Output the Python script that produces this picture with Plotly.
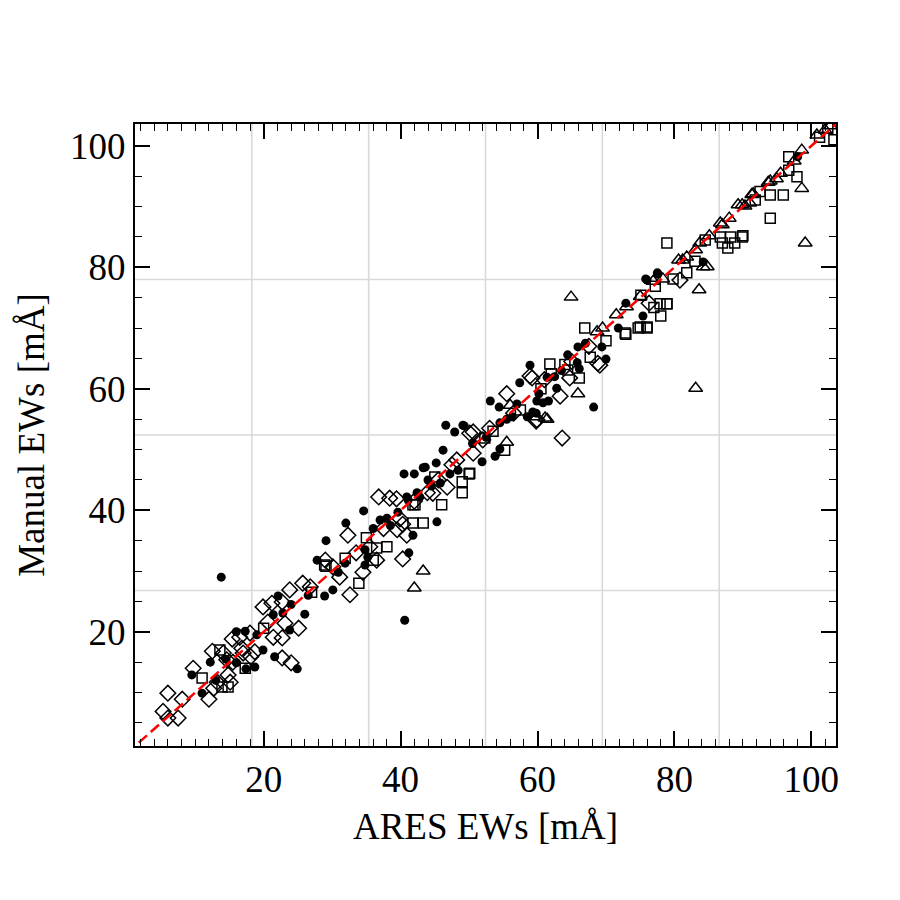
import plotly.graph_objects as go

# ---- data (ARES EW, Manual EW) in mÅ ----
dots_x = [13.8, 40.6, 21.6, 24.9, 9.5, 11.0, 12.2, 16.0, 17.3, 17.4, 19.9, 22.1, 26.0, 29.1, 27.8, 32.0,
          30.1, 34.6, 40.5, 42.0, 43.3, 45.2, 46.2, 46.6, 47.9, 49.1, 51.9, 41.8, 41.2, 45.3, 28.9, 57.4,
          53.1, 54.4, 49.3, 43.6, 53.8, 54.5, 58.5, 59.8, 60.8, 61.4, 76.0, 77.5, 72.9, 75.4, 71.8, 70.0,
          68.2, 65.9, 62.8, 58.9, 59.3, 66.1, 84.2, 98.0, 22.8, 23.8, 30.9, 31.9, 34.8, 35.2, 34.8, 37.0,
          38.0, 39.6, 41.1, 42.4, 56.3, 54.5, 59.9, 48.4, 47.2, 42.8, 40.9, 44.0, 69.4, 65.8, 64.4, 60.2,
          61.6, 77.6, 75.8, 16.0, 18.7, 21.4, 36.0, 38.5, 44.5, 45.8, 50.5, 52.5, 55.5, 57.0, 62.5, 63.5,
          67.0, 26.5, 24.0, 19.0, 14.5, 13.0]
dots_y = [29.0, 21.9, 15.9, 13.9, 12.9, 9.9, 15.0, 20.0, 20.1, 13.9, 17.0, 25.9, 22.9, 35.0, 31.8, 37.9,
          26.9, 39.9, 46.0, 46.0, 47.0, 47.8, 49.9, 54.0, 52.9, 54.0, 48.0, 35.9, 33.0, 38.1, 25.9, 61.0,
          58.0, 57.0, 53.9, 47.1, 48.9, 50.1, 55.4, 56.0, 57.7, 61.9, 77.9, 79.1, 74.1, 72.0, 70.0, 64.9,
          57.0, 66.9, 60.1, 63.9, 56.2, 63.3, 80.9, 98.2, 23.1, 20.3, 29.8, 31.3, 31.0, 32.3, 33.5, 38.4,
          38.7, 39.7, 41.7, 42.9, 55.4, 54.4, 58.0, 46.6, 46.0, 42.2, 42.2, 45.0, 66.9, 64.3, 65.6, 59.2,
          58.0, 78.9, 78.1, 14.9, 14.2, 22.8, 37.0, 37.5, 44.0, 44.5, 51.0, 52.0, 55.0, 57.5, 62.0, 63.0,
          67.5, 26.0, 24.5, 19.5, 15.5, 12.0]

squares_x = [96.7, 96.7, 97.9, 94.0, 95.9, 94.0, 91.8, 90.0, 102.4, 103.3, 101.2, 78.9, 86.7, 88.2, 89.9,
             87.0, 88.8, 87.8, 83.0, 81.8, 79.8, 77.2, 77.9, 78.9, 78.0, 76.0, 75.0, 66.9, 74.7, 72.9, 70.0,
             67.7, 61.8, 64.4, 66.1, 75.1, 50.0, 49.0, 49.0, 42.1, 46.0, 41.8, 43.3, 52.3, 55.2, 33.9, 38.0,
             41.8, 28.9, 11.0, 13.6, 14.8, 17.3, 20.0, 13.9, 36.5, 36.0, 29.1, 31.9, 50.1, 72.8, 76.0, 78.9,
             77.0, 45.0, 53.5, 57.5, 60.5, 62.0, 64.0, 84.5, 92.5, 35.0, 27.0]
squares_y = [98.2, 96.0, 94.9, 91.9, 91.9, 88.1, 91.1, 85.2, 102.9, 101.0, 101.4, 84.0, 85.0, 85.0, 85.0,
             84.0, 84.0, 83.2, 81.0, 79.1, 78.1, 76.9, 74.0, 74.0, 72.0, 70.2, 70.2, 70.0, 70.0, 69.0, 67.9,
             65.2, 64.1, 63.1, 61.8, 75.4, 46.0, 44.7, 42.9, 40.9, 40.9, 37.9, 37.9, 51.9, 49.9, 28.0, 34.0,
             40.9, 31.0, 12.4, 17.0, 10.9, 14.0, 20.6, 10.9, 33.8, 31.8, 30.8, 32.1, 46.1, 69.2, 70.0, 74.0,
             73.4, 45.5, 53.0, 56.5, 60.0, 62.5, 64.0, 84.5, 92.5, 35.5, 26.5]

diamonds_x = [6.0, 5.3, 6.0, 7.5, 8.1, 9.7, 12.0, 12.7, 12.5, 15.4, 15.1, 13.2, 14.8, 15.5, 16.8, 18.0,
              19.9, 20.6, 21.2, 22.7, 22.7, 32.3, 32.6, 40.3, 40.9, 36.8, 38.4, 39.4, 24.0, 25.1, 34.5,
              14.1, 14.6, 16.5, 17.0, 18.1, 18.7, 21.4, 23.1, 23.8, 22.7, 25.7, 26.8, 29.0, 30.1, 31.1,
              35.5, 36.5, 39.5, 39.9, 43.9, 46.8, 48.2, 50.1, 50.6, 52.0, 55.5, 50.6, 44.7, 59.9, 40.3,
              76.3, 58.9, 63.3, 69.1, 64.7, 59.8, 63.6, 80.8, 59.2, 68.8, 33.5, 37.5, 42.0, 45.5, 47.5,
              53.0, 56.5, 61.0, 65.0, 67.5]
diamonds_y = [9.9, 6.9, 5.8, 5.8, 8.9, 14.0, 8.9, 10.7, 16.8, 18.8, 11.7, 11.7, 12.9, 15.0, 17.3, 19.8,
              24.1, 21.6, 24.7, 15.7, 19.0, 35.9, 26.1, 32.0, 35.9, 42.2, 42.0, 41.9, 14.9, 20.6, 29.8,
              16.5, 15.4, 19.1, 16.5, 15.9, 16.7, 19.1, 21.4, 26.9, 24.9, 28.0, 27.4, 31.8, 30.7, 29.0,
              34.0, 31.8, 36.8, 38.6, 42.9, 43.8, 48.3, 52.7, 49.4, 51.6, 59.2, 52.9, 42.8, 54.9, 37.7,
              74.1, 62.1, 58.8, 63.9, 61.8, 54.7, 51.9, 77.9, 61.8, 64.2, 33.0, 37.0, 41.5, 45.0, 47.5,
              53.5, 56.0, 61.5, 64.5, 67.0]

triangles_x = [99.1, 98.6, 98.6, 94.0, 94.9, 91.5, 100.8, 102.0, 102.8, 89.9, 91.0, 83.1, 83.6, 93.7, 91.3,
               89.3, 90.3, 88.0, 86.7, 85.1, 83.7, 83.1, 81.8, 81.2, 80.6, 84.2, 84.8, 78.3, 64.9, 65.9,
               61.4, 71.5, 68.7, 76.9, 43.3, 42.0, 55.5, 59.4, 56.0, 61.1, 87.0, 95.5, 97.5, 73.0, 75.0, 69.5]
triangles_y = [84.0, 93.0, 99.3, 94.2, 94.6, 92.1, 101.8, 102.6, 103.3, 90.3, 90.6, 60.1, 76.3, 94.0, 92.0,
               90.3, 90.1, 88.1, 87.3, 85.2, 84.0, 82.9, 81.7, 81.2, 81.2, 80.1, 80.1, 78.1, 75.1, 59.2,
               55.0, 72.2, 69.4, 77.7, 30.0, 27.2, 51.2, 55.4, 57.3, 55.2, 87.0, 95.5, 97.5, 73.5, 75.2, 70.0]

one_to_one = [0, 110]
x_range = [1.2, 103.6]
y_range = [1.2, 103.6]
vgrid_frac = [1/6, 2/6, 3/6, 4/6, 5/6]
hgrid_frac = [1/4, 2/4, 3/4]

FONT = "Liberation Serif"
fig = go.Figure()

def add_series(x, y, symbol, size, lw):
    fig.add_trace(go.Scatter(
        x=x, y=y, mode="markers",
        marker=dict(symbol=symbol, size=size, color="black",
                    line=dict(color="black", width=lw)),
        showlegend=False, hoverinfo="skip"))

add_series(diamonds_x, diamonds_y, "diamond-open", 12, 1.5)
add_series(squares_x, squares_y, "square-open", 10, 1.5)
add_series(triangles_x, triangles_y, "triangle-up-open", 12, 1.5)
add_series(dots_x, dots_y, "circle", 9, 0)

fig.add_trace(go.Scatter(x=one_to_one, y=one_to_one, mode="lines",
                         line=dict(color="red", width=2.5, dash="11px,5px"),
                         showlegend=False, hoverinfo="skip"))

shapes = []
for f in vgrid_frac:
    shapes.append(dict(type="line", xref="paper", yref="paper", x0=f, x1=f, y0=0, y1=1,
                       line=dict(color="#d9d9d9", width=1.6), layer="below"))
for f in hgrid_frac:
    shapes.append(dict(type="line", xref="paper", yref="paper", x0=0, x1=1, y0=f, y1=f,
                       line=dict(color="#d9d9d9", width=1.6), layer="below"))

axis_common = dict(
    showline=True, linecolor="black", linewidth=2, mirror="allticks",
    ticks="inside", ticklen=15, tickwidth=1.6, tickcolor="black",
    showgrid=False, zeroline=False,
    tickfont=dict(family=FONT, size=37, color="black"),
)

fig.update_layout(
    width=900, height=900,
    margin=dict(l=135, r=64, t=124, b=154, autoexpand=False),
    paper_bgcolor="white", plot_bgcolor="white",
    shapes=shapes,
    xaxis=dict(range=x_range, tick0=0, dtick=20, **axis_common,
               minor=dict(dtick=2, tick0=0, ticklen=7, tickwidth=1.3, ticks="inside", tickcolor="black", showgrid=False),
               title=dict(text="ARES EWs [mÅ]", font=dict(family=FONT, size=37, color="black"), standoff=14)),
    yaxis=dict(range=y_range, tick0=0, dtick=20, **axis_common,
               minor=dict(dtick=5, tick0=0, ticklen=7, tickwidth=1.3, ticks="inside", tickcolor="black", showgrid=False),
               title=dict(text="Manual EWs [mÅ]", font=dict(family=FONT, size=37, color="black"), standoff=14)),
)

fig.write_html("out.html")
